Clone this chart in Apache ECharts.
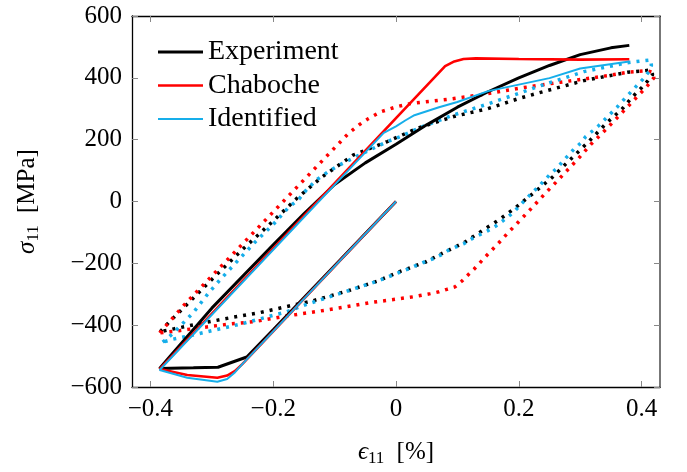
<!DOCTYPE html>
<html><head><meta charset="utf-8">
<script src="https://cdn.jsdelivr.net/npm/echarts@6/dist/echarts.min.js"></script>
<style>html,body{margin:0;padding:0;background:#fff}#c{width:687px;height:472px}</style>
</head><body><div id="c"></div>
<script>
const xTicks = [-0.4, -0.2, 0, 0.2, 0.4];
const seriesNames = ['Experiment', 'Chaboche', 'Identified'];
const colors = ['#000000', '#ff0000', '#16aeea'];

// first loading (compression) and first reload, solid lines  [strain %, stress MPa]
const expFirst = [[0,0],[-0.1,-208],[-0.2,-415],[-0.243,-503],[-0.29,-536],[-0.33,-538],[-0.385,-540],
  [-0.37,-505],[-0.3,-345],[-0.2,-140],[-0.15,-40],[-0.1,55],[-0.05,125],[0,185],[0.05,248],[0.1,305],
  [0.15,355],[0.2,400],[0.25,440],[0.3,475],[0.35,497],[0.38,505]];
const chabFirst = [[0,0],[-0.1,-210],[-0.2,-420],[-0.25,-525],[-0.262,-548],[-0.275,-563],[-0.291,-570],
  [-0.34,-561],[-0.385,-542],[0,270],[0.08,438],[0.095,453],[0.11,461],[0.13,463],[0.2,461],[0.3,459],[0.38,460]];
const idFirst = [[0,0],[-0.1,-210],[-0.2,-420],[-0.25,-525],[-0.262,-552],[-0.275,-574],[-0.291,-583],
  [-0.34,-570],[-0.385,-545],[-0.02,222],[0,243],[0.015,262],[0.03,279],[0.05,292],[0.07,305],[0.1,322],
  [0.15,357],[0.2,378],[0.25,399],[0.3,430],[0.38,453]];

// stabilised cycle, dotted lines
const expCycle = [[-0.384,-421],[-0.37,-391],[-0.343,-338],[-0.3,-252],[-0.25,-155],[-0.2,-63],[-0.16,13],
  [-0.12,80],[-0.07,150],[-0.014,194],[0.035,237],[0.094,275],[0.149,300],[0.2,333],[0.23,350],[0.306,391],
  [0.377,418],[0.415,425],[0.418,410],[0.41,390],[0.4,368],[0.385,338],[0.37,303],[0.355,275],[0.344,256],
  [0.314,194],[0.284,136],[0.255,79],[0.225,29],[0.192,-24],[0.168,-59],[0.133,-104],[0.111,-133],
  [0.075,-168],[0.048,-196],[0.007,-226],[-0.031,-258],[-0.08,-290],[-0.137,-322],[-0.167,-335],
  [-0.221,-359],[-0.281,-380],[-0.33,-399],[-0.362,-412],[-0.384,-421]];
const chabCycle = [[-0.385,-425],[-0.365,-380],[-0.343,-330],[-0.077,221],[-0.06,248],[-0.045,268],
  [-0.025,290],[0,306],[0.024,317],[0.083,330],[0.138,345],[0.203,367],[0.268,386],[0.306,396],[0.344,407],
  [0.377,418],[0.409,423],[0.418,418],[0.42,400],[0.412,380],[0.4,354],[0.38,312],[0.355,260],[0.336,221],
  [0.317,184],[0.298,141],[0.279,101],[0.26,61],[0.241,22],[0.222,-19],[0.203,-59],[0.184,-98],[0.165,-139],
  [0.146,-178],[0.127,-219],[0.116,-240],[0.107,-258],[0.096,-276],[0.083,-284],[0.07,-292],[0.056,-298],
  [0.029,-308],[0,-316],[-0.042,-327],[-0.082,-341],[-0.123,-354],[-0.177,-370],[-0.232,-389],[-0.27,-396],
  [-0.313,-407],[-0.351,-417],[-0.385,-425]];
const idCycle = [[-0.38,-455],[-0.365,-430],[-0.35,-400],[-0.33,-359],[-0.305,-295],[-0.286,-252],
  [-0.259,-194],[-0.229,-130],[-0.199,-72],[-0.175,-19],[-0.158,8],[-0.145,40],[-0.128,72],[-0.11,97],
  [-0.09,120],[-0.058,152],[-0.036,173],[-0.014,194],[0.007,210],[0.04,240],[0.094,280],[0.149,315],
  [0.2,350],[0.236,375],[0.306,420],[0.377,449],[0.415,458],[0.416,440],[0.412,420],[0.402,395],[0.39,370],
  [0.375,338],[0.36,305],[0.345,275],[0.33,245],[0.32,228],[0.309,210],[0.301,189],[0.29,170],[0.282,152],
  [0.272,131],[0.263,109],[0.252,90],[0.242,69],[0.232,48],[0.222,29],[0.213,10],[0.203,-10],[0.192,-34],
  [0.173,-64],[0.162,-80],[0.149,-95],[0.138,-106],[0.124,-120],[0.111,-136],[0.099,-146],[0.086,-157],
  [0.075,-171],[0.062,-184],[0.048,-194],[0.035,-205],[0.024,-215],[0.01,-226],[-0.031,-258],[-0.08,-290],
  [-0.123,-318],[-0.15,-336],[-0.18,-358],[-0.2,-368],[-0.25,-395],[-0.3,-418],[-0.34,-436],[-0.365,-446],
  [-0.38,-455]];

const FONT = "'Liberation Serif', 'DejaVu Serif', serif";
const minus = s => String(s).replace('-', '\u2212');
const solidWidths = [3, 2.6, 2];
const legendIcons = ['path://M0,0H45V3H0Z', 'path://M0,0H45V2.6H0Z', 'path://M0,0H45V2H0Z'];

const chart = echarts.init(document.getElementById('c'), null, {renderer: 'canvas'});
const firsts = [expFirst, chabFirst, idFirst];
const cycles = [expCycle, chabCycle, idCycle];
const series = [];
firsts.forEach((d, i) => series.push({
  name: seriesNames[i], type: 'line', data: d, symbol: 'none', animation: false,
  lineStyle: {color: colors[i], width: solidWidths[i]}, itemStyle: {color: colors[i]}, z: 3
}));
cycles.forEach((d, i) => series.push({
  name: seriesNames[i], type: 'line', data: d, symbol: 'none', animation: false,
  lineStyle: {color: colors[i], width: 3.5, type: [3, 6], cap: 'butt'}, itemStyle: {color: colors[i]}, z: 2
}));

const tickStyle = {show: true, inside: true, length: 6, lineStyle: {color: '#888', width: 1}};
const lineStyleAx = {show: true, onZero: false, lineStyle: {color: '#000', width: 1.3}};
chart.setOption({
  animation: false,
  backgroundColor: '#fff',
  grid: {left: 132, right: 27, top: 16, bottom: 80},
  legend: {
    orient: 'vertical', left: 158, top: 38, padding: 0, itemGap: 5.5, itemWidth: 45, itemHeight: 12,
    textStyle: {fontFamily: FONT, fontSize: 28, lineHeight: 28, color: '#000'},
    data: seriesNames.map((n, i) => ({name: n, icon: legendIcons[i],
      itemStyle: {color: colors[i], borderWidth: 0}}))
  },
  xAxis: [{
    type: 'value', min: -0.43, max: 0.43, position: 'bottom',
    axisLine: lineStyleAx, splitLine: {show: false},
    axisTick: Object.assign({customValues: xTicks}, tickStyle),
    axisLabel: {customValues: xTicks, fontFamily: FONT, fontSize: 25, color: '#000', margin: 10,
      formatter: v => v === 0 ? '0' : minus(v.toFixed(1))},
    name: '{e|\u03f5}{s|11} [%]', nameLocation: 'middle', nameGap: 50,
    nameTextStyle: {fontFamily: FONT, fontSize: 25, color: '#000', lineHeight: 30,
      rich: {e: {fontFamily: FONT, fontStyle: 'italic', fontSize: 25, lineHeight: 30},
             s: {fontFamily: FONT, fontSize: 17, lineHeight: 17, verticalAlign: 'bottom', padding: [0, 6, 0, 0]}}}
  }, {
    type: 'value', min: -0.43, max: 0.43, position: 'top',
    axisLine: lineStyleAx, splitLine: {show: false},
    axisTick: Object.assign({customValues: xTicks}, tickStyle), axisLabel: {show: false}
  }],
  yAxis: [{
    type: 'value', min: -600, max: 600, interval: 200, position: 'left',
    axisLine: lineStyleAx, splitLine: {show: false}, axisTick: tickStyle,
    axisLabel: {fontFamily: FONT, fontSize: 25, color: '#000', margin: 10, formatter: v => minus(v)},
    name: '{e|\u03c3}{s|11} [MPa]', nameLocation: 'middle', nameGap: 90, nameRotate: 90,
    nameTextStyle: {fontFamily: FONT, fontSize: 25, color: '#000', lineHeight: 30,
      rich: {e: {fontFamily: FONT, fontStyle: 'italic', fontSize: 25, lineHeight: 30},
             s: {fontFamily: FONT, fontSize: 17, lineHeight: 17, verticalAlign: 'bottom', padding: [0, 6, 0, 0]}}}
  }, {
    type: 'value', min: -600, max: 600, interval: 200, position: 'right',
    axisLine: {show: true, onZero: false, lineStyle: {color: '#555', width: 1.6}},
    splitLine: {show: false}, axisTick: tickStyle, axisLabel: {show: false}
  }],
  series: series
});
</script>
</body></html>
